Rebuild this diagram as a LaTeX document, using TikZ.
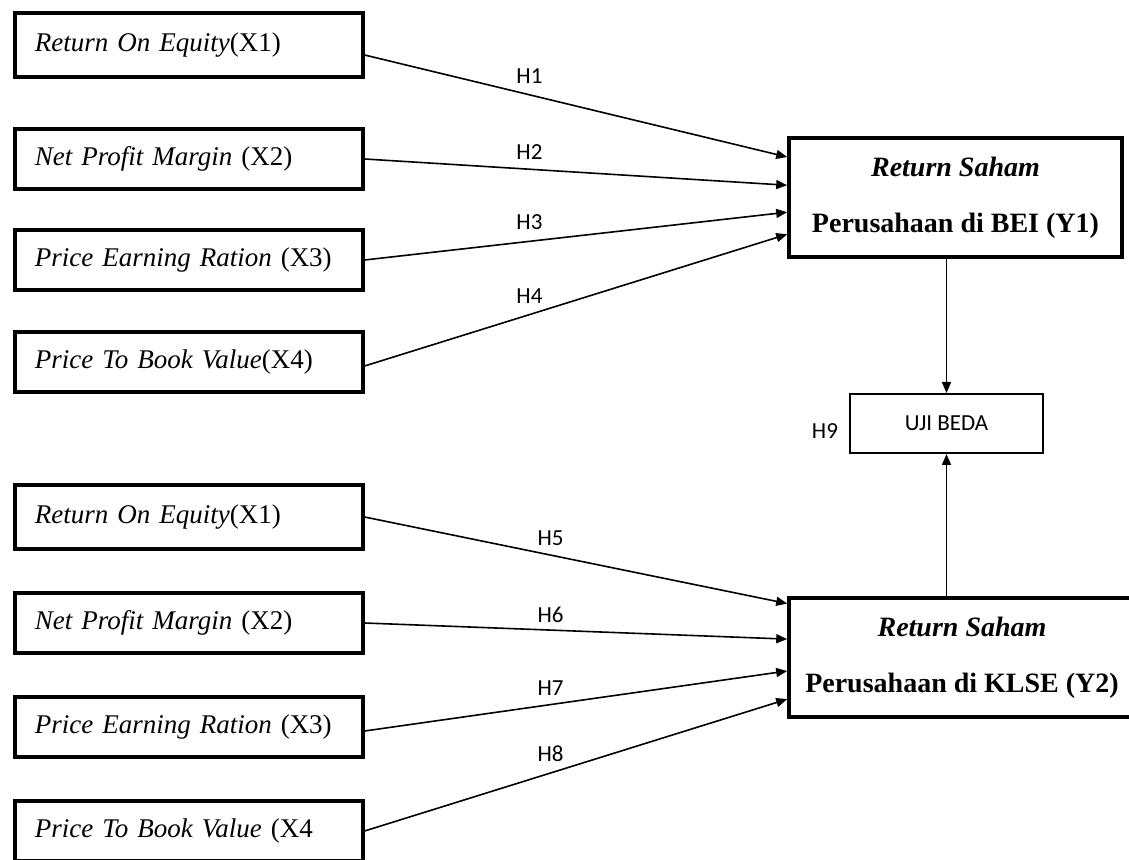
\documentclass[tikz,border=0pt]{standalone}
\usepackage{fontspec}
\setmainfont{Liberation Serif}
\newfontfamily\hfont{Carlito}
\usepackage{tikz}
\usetikzlibrary{arrows.meta,positioning,calc}

\begin{document}
\begin{tikzpicture}[
    x=0.5pt, y=-0.5pt,
    varbox/.style={rectangle, draw, line width=1.8pt, text width=154pt, align=left, inner xsep=10pt, minimum height=30pt, anchor=west, font=\fontsize{13.5}{16}\selectfont},
    ybox/.style={rectangle, draw, line width=1.8pt, align=center, minimum height=59.5pt, font=\fontsize{14}{17}\selectfont\bfseries},
    testbox/.style={rectangle, draw, line width=1pt, minimum width=96.5pt, minimum height=29.5pt, font=\hfont\fontsize{11.5}{14}\selectfont},
    hlabel/.style={font=\hfont\fontsize{11.5}{14}\selectfont},
    arrow/.style={-{Triangle[length=5.5pt,width=4.5pt]}, line width=0.8pt}
]
    \useasboundingbox (0,0) rectangle (1129,860);

    % variabel bursa BEI
    \node [varbox, minimum height=32pt] (roe1) at (13,45) {\textit{Return On Equity}(X1)};
    \node [varbox] (npm1) at (13,159) {\textit{Net Profit Margin} (X2)};
    \node [varbox] (per1) at (13,260) {\textit{Price Earning Ration} (X3)};
    \node [varbox] (pbv1) at (13,362) {\textit{Price To Book Value}(X4)};

    % variabel bursa KLSE
    \node [varbox, minimum height=32pt] (roe2) at (13,517) {\textit{Return On Equity}(X1)};
    \node [varbox] (npm2) at (13,623) {\textit{Net Profit Margin} (X2)};
    \node [varbox] (per2) at (13,727) {\textit{Price Earning Ration} (X3)};
    \node [varbox] (pbv2) at (13,831) {\textit{Price To Book Value} (X4};

    \node [ybox, minimum width=166.5pt] (bei) at (955.5,197.5) {\textit{Return Saham}\\[11pt] Perusahaan di BEI (Y1)};
    \node [ybox, minimum width=173pt] (klse) at (962,657.5) {\textit{Return Saham}\\[11pt] Perusahaan di KLSE (Y2)};
    \node [testbox] (uji) at (946.5,423.5) {UJI BEDA};
    \node [hlabel, left=2pt of uji, yshift=-4pt] (h9) {H9};

    \coordinate (b1) at ($(bei.north west)!0.17!(bei.south west)$);
    \coordinate (b2) at ($(bei.north west)!0.40!(bei.south west)$);
    \coordinate (b3) at ($(bei.north west)!0.62!(bei.south west)$);
    \coordinate (b4) at ($(bei.north west)!0.80!(bei.south west)$);
    \coordinate (k1) at ($(klse.north west)!0.06!(klse.south west)$);
    \coordinate (k2) at ($(klse.north west)!0.35!(klse.south west)$);
    \coordinate (k3) at ($(klse.north west)!0.61!(klse.south west)$);
    \coordinate (k4) at ($(klse.north west)!0.84!(klse.south west)$);

    \draw [arrow] ([yshift=-5pt]roe1.east) -- node[hlabel, pos=0.39, above=2pt] {H1} (b1);
    \draw [arrow] (npm1.east) -- node[hlabel, pos=0.39, above=1pt] {H2} (b2);
    \draw [arrow] (per1.east) -- node[hlabel, pos=0.39, above=2pt] {H3} (b3);
    \draw [arrow] ([yshift=-2pt]pbv1.east) -- node[hlabel, pos=0.39, above=2pt] {H4} (b4);

    \draw [arrow] (roe2.east) -- node[hlabel, pos=0.44, above=1pt] {H5} (k1);
    \draw [arrow] (npm2.east) -- node[hlabel, pos=0.44, above=0pt] {H6} (k2);
    \draw [arrow] ([yshift=-2pt]per2.east) -- node[hlabel, pos=0.44, above=1pt] {H7} (k3);
    \draw [arrow] (pbv2.east) -- node[hlabel, pos=0.44, above=2pt] {H8} (k4);

    \draw [arrow] (bei.south -| uji.north) -- (uji.north);
    \draw [arrow] (klse.north -| uji.south) -- (uji.south);
\end{tikzpicture}
\end{document}
